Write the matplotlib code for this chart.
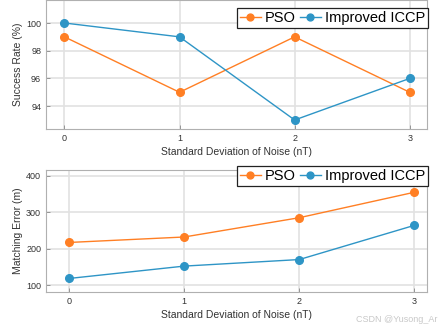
import matplotlib.pyplot as plt

plt.rcParams['font.family'] = ['Liberation Sans', 'DejaVu Sans']

noise = [0, 1, 2, 3]
success_pso = [99, 95, 99, 95]
success_iccp = [100, 99, 93, 96]
error_pso = [217, 232, 285, 355]
error_iccp = [118, 152, 170, 264]

orange = '#FF7F24'
blue = '#2E95C6'


def style_axes(ax):
    ax.grid(True, color='#e2e2e2', linewidth=1.2)
    ax.set_axisbelow(True)
    for s in ax.spines.values():
        s.set_color('#b0b0b0')
        s.set_linewidth(0.8)
    ax.tick_params(direction='in', length=3, width=0.6, color='#888888',
                   labelsize=6.5, labelcolor='#333333', top=False, right=False)
    ax.set_xticks(noise)
    ax.set_xlabel("Standard Deviation of Noise (nT)", fontsize=7.5,
                  color='#333333', labelpad=3)


fig = plt.figure(figsize=(4.4, 3.28), dpi=100)
ax1 = fig.add_axes([46 / 440, 1 - 129 / 328, 381 / 440, 129 / 328])
ax2 = fig.add_axes([46 / 440, 1 - 292.3 / 328, 381 / 440, 122.6 / 328])

line_kw = dict(marker='o', markersize=5.5, linewidth=1)

ax1.plot(noise, success_pso, color=orange, label='PSO', **line_kw)
ax1.plot(noise, success_iccp, color=blue, label='Improved ICCP', **line_kw)
ax1.set_xlim(-0.16, 3.15)
ax1.set_ylim(92.35, 101.66)
ax1.set_yticks([94, 96, 98, 100])
ax1.set_ylabel("Success Rate (%)", fontsize=7.5, color='#333333', labelpad=2)
style_axes(ax1)

ax2.plot(noise, error_pso, color=orange, label='PSO', **line_kw)
ax2.plot(noise, error_iccp, color=blue, label='Improved ICCP', **line_kw)
ax2.set_xlim(-0.2, 3.11)
ax2.set_ylim(80, 417)
ax2.set_yticks([100, 200, 300, 400])
ax2.set_ylabel("Matching Error (m)", fontsize=7.5, color='#333333', labelpad=2)
style_axes(ax2)

leg_kw = dict(loc='upper right', ncol=2, fontsize=10.5, fancybox=False,
              framealpha=1, edgecolor='#222222', borderaxespad=0,
              handlelength=1.4, handletextpad=0.3, columnspacing=0.3,
              borderpad=0.2, markerscale=0.9)
l1 = ax1.legend(bbox_to_anchor=(1.003, 0.938), **leg_kw)
l2 = ax2.legend(bbox_to_anchor=(1.003, 1.03), **leg_kw)
for leg in (l1, l2):
    leg.get_frame().set_linewidth(0.9)

fig.text(0.995, 0.012, "CSDN @Yusong_Ar", ha='right', va='bottom',
         fontsize=6.5, color='#c8c8c8')

fig.savefig("out.png", dpi=100)
